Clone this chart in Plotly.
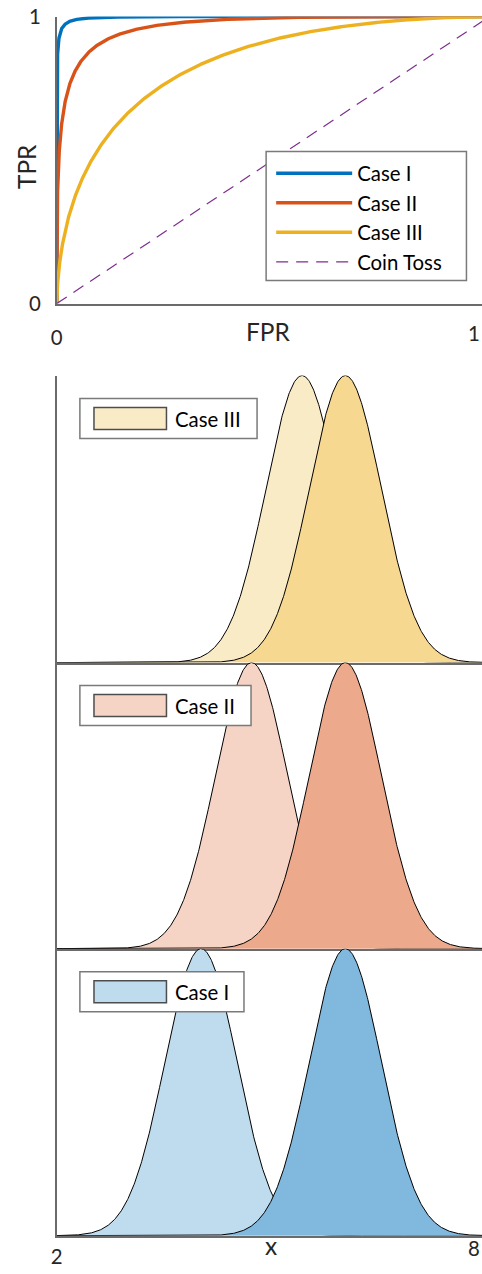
import math
import numpy as np
import plotly.graph_objects as go

# ---------------- data ----------------
cases = ["Case I", "Case II", "Case III"]
mu_neg = [4.0, 4.7, 5.4]      # left (light) distributions
mu_pos = [6.0, 6.0, 6.0]      # right (dark) distributions
sigma = [0.5, 0.5, 0.5]
roc_dprime = [4.0, 2.6, 1.4]  # separation
x_ticks = [2, 8]
x_ticktext = ["2", "8"]
roc_ticks = [0, 1]
roc_ticktext = ["0", "1"]
coin_x = [0, 1]
coin_y = [0, 1]

roc_colors = ["#0072BD", "#D95319", "#EDB120"]
light_colors = ["#BFDCEE", "#F6D4C5", "#FAEBC7"]
dark_colors = ["#80B8DE", "#ECA98C", "#F6D890"]
coin_color = "#7E2F8E"

FONT = "Lato"
W, H = 482, 1274
# the photographed page comes out slightly shrunk about its centre; positions below
# are given in target-picture pixels and converted to page pixels here
S, BX, BY = 0.981, 4.6, 12.5


def dx(p):
    return (p - BX) / S


def dy(p):
    return (p - BY) / S


def px_x(p):
    return dx(p) / W


def px_y(p):
    return 1 - dy(p) / H


def fs(v):
    return v / S


qfun = np.vectorize(lambda z: 0.5 * math.erfc(z / math.sqrt(2)))
pdf = lambda x, m, s: np.exp(-0.5 * ((x - m) / s) ** 2) / (s * math.sqrt(2 * math.pi))

fig = go.Figure()

# ---------------- ROC (top) ----------------
for i, name in enumerate(cases):
    z = np.linspace(-8, 8 + roc_dprime[i], 4001)
    fpr = qfun(z)
    tpr = qfun(z - roc_dprime[i])
    fig.add_trace(go.Scatter(x=fpr[::-1], y=tpr[::-1], mode="lines", name=name,
                             line=dict(color=roc_colors[i], width=3.4),
                             legendgroup=name, xaxis="x", yaxis="y"))
fig.add_trace(go.Scatter(x=coin_x, y=coin_y, mode="lines", name="Coin Toss",
                         line=dict(color=coin_color, width=1.2, dash="12px,8px"),
                         legendgroup="coin", xaxis="x", yaxis="y"))

# ---------------- distributions (bottom) ----------------
panel_order = [2, 1, 0]  # top panel shows Case III
xs = np.linspace(x_ticks[0], x_ticks[1], 801)
for k, ci in enumerate(panel_order):
    ax = k + 2
    for mu, col in ((mu_neg[ci], light_colors[ci]), (mu_pos[ci], dark_colors[ci])):
        fig.add_trace(go.Scatter(x=xs, y=pdf(xs, mu, sigma[ci]), mode="lines",
                                 fill="tozeroy", fillcolor=col,
                                 line=dict(color="black", width=1),
                                 showlegend=False, hoverinfo="skip",
                                 xaxis=f"x{ax}", yaxis=f"y{ax}"))

# ---------------- layout ----------------
axis_gray = "#6b6b6b"
tick_col = "#262626"
X_LEFT, X_RIGHT = 55, 485                 # picture x of the axis ends (right end off-canvas)
xd = [px_x(X_LEFT), 1.0]
frac_visible = (W - dx(X_LEFT)) / (dx(X_RIGHT) - dx(X_LEFT))
roc_xrange = [roc_ticks[0], roc_ticks[0] + (roc_ticks[1] - roc_ticks[0]) * frac_visible]
dist_xrange = [x_ticks[0], x_ticks[0] + (x_ticks[1] - x_ticks[0]) * frac_visible]
panels_px = [(375, 662), (662, 948), (948, 1235)]

layout = dict(
    width=W, height=H, autosize=False,
    margin=dict(l=0, r=0, t=0, b=0),
    paper_bgcolor="white", plot_bgcolor="white",
    font=dict(family=FONT, size=fs(20), color=tick_col),
    showlegend=True,
    legend=dict(x=px_x(268), y=px_y(153), xanchor="left", yanchor="top",
                bgcolor="rgba(0,0,0,0)", borderwidth=0,
                font=dict(family=FONT, size=fs(20), color="black"),
                itemwidth=76, tracegroupgap=0, traceorder="grouped"),
    xaxis=dict(domain=xd, range=roc_xrange, tickvals=roc_ticks, ticktext=roc_ticktext,
               showline=True, linecolor=axis_gray, linewidth=1.5,
               ticks="inside", ticklen=5, tickcolor=axis_gray,
               showgrid=False, zeroline=False, anchor="y",
               tickfont=dict(size=fs(20), color=tick_col), ticklabelstandoff=15),
    yaxis=dict(domain=[px_y(303), px_y(16)], range=[0, 1], tickvals=roc_ticks,
               ticktext=roc_ticktext, showline=True, linecolor=axis_gray, linewidth=1.5,
               ticks="inside", ticklen=5, tickcolor=axis_gray,
               showgrid=False, zeroline=False, anchor="x", ticklabeloverflow="allow",
               tickfont=dict(size=fs(20), color=tick_col), ticklabelstandoff=10),
)

for k, ci in enumerate(panel_order):
    ax = k + 2
    top, bot = panels_px[k]
    ymax = float(pdf(mu_pos[ci], mu_pos[ci], sigma[ci]))
    xa = dict(domain=xd, range=dist_xrange, showline=True, linecolor=axis_gray,
              linewidth=1.5, showgrid=False, zeroline=False, anchor=f"y{ax}",
              ticks="", showticklabels=False)
    if k == 2:
        xa.update(showticklabels=True, tickvals=x_ticks, ticktext=x_ticktext,
                  tickfont=dict(size=fs(20), color=tick_col), ticklabelstandoff=2)
    layout[f"xaxis{ax}"] = xa
    layout[f"yaxis{ax}"] = dict(domain=[px_y(bot), px_y(top)], range=[0, ymax],
                                showline=True, linecolor=axis_gray, linewidth=1.5,
                                showgrid=False, zeroline=False, ticks="",
                                showticklabels=False, anchor=f"x{ax}")

fig.update_layout(**layout)

# frame of the ROC legend (white box hides the dashed line behind it)
fig.add_shape(type="rect", xref="paper", yref="paper",
              x0=px_x(263), x1=px_x(462), y0=px_y(151), y1=px_y(280),
              line=dict(color="#7a7a7a", width=1.5), fillcolor="white", layer="above")

# axis titles and the right-end tick labels that sit at the canvas edge
annots = [
    dict(text="FPR", x=px_x(265), y=px_y(331), font=dict(size=fs(24))),
    dict(text="TPR", x=px_x(25), y=px_y(166), font=dict(size=fs(24)), textangle=-90),
    dict(text="x", x=px_x(268), y=0.0, yanchor="bottom", yshift=1, font=dict(size=fs(24))),
    dict(text=roc_ticktext[1], x=1.0, y=px_y(332), font=dict(size=fs(20)), xanchor="right"),
    dict(text=x_ticktext[1], x=1.0, y=0.0, yanchor="bottom", yshift=1,
         font=dict(size=fs(20)), xanchor="right"),
]
for a in annots:
    a.setdefault("xanchor", "center")
    a.setdefault("yanchor", "middle")
    fig.add_annotation(xref="paper", yref="paper", showarrow=False, **a)

# per-panel legends (box, patch, label)
box_right = [254, 248, 241]
for k, ci in enumerate(panel_order):
    top = panels_px[k][0] + 23
    fig.add_shape(type="rect", xref="paper", yref="paper",
                  x0=px_x(78), x1=px_x(box_right[k]), y0=px_y(top), y1=px_y(top + 40),
                  line=dict(color="#7a7a7a", width=1.5), fillcolor="white", layer="above")
    fig.add_shape(type="rect", xref="paper", yref="paper",
                  x0=px_x(92), x1=px_x(164), y0=px_y(top + 9), y1=px_y(top + 31),
                  line=dict(color="#4d4d4d", width=1.5), fillcolor=light_colors[ci],
                  layer="above")
    fig.add_annotation(xref="paper", yref="paper", showarrow=False,
                       x=px_x(170), y=px_y(top + 20), xanchor="left", yanchor="middle",
                       text=cases[ci], font=dict(size=fs(20), color="black"))

fig.write_html("out.html", config={"displayModeBar": False},
               post_script="document.body.style.margin='0';"
                           "document.body.style.overflow='hidden';")
